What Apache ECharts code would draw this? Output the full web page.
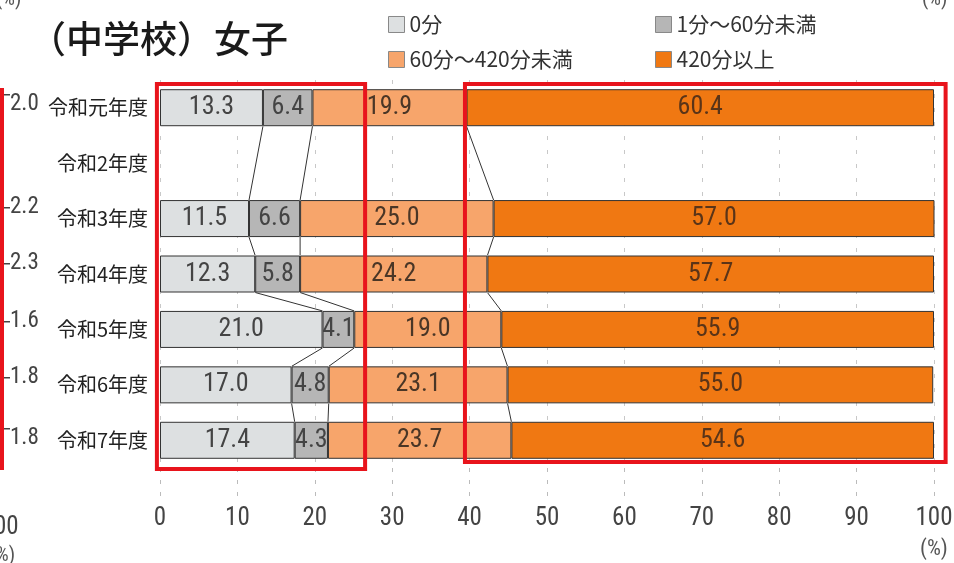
<!DOCTYPE html>
<html>
<head>
<meta charset="utf-8">
<script src="https://cdn.jsdelivr.net/npm/echarts@6/dist/echarts.min.js"></script>
<style>
  html, body { margin: 0; padding: 0; background: #fff; }
  #main { width: 954px; height: 563px; }
</style>
</head>
<body>
<div id="main"></div>
<script>
// 年度（令和2年度はデータなし）
var years = ['令和元年度', '令和2年度', '令和3年度', '令和4年度', '令和5年度', '令和6年度', '令和7年度'];
var seriesNames = ['0分', '1分～60分未満', '60分～420分未満', '420分以上'];
var zeroMin   = [13.3, null, 11.5, 12.3, 21.0, 17.0, 17.4];
var under60   = [6.4,  null, 6.6,  5.8,  4.1,  4.8,  4.3];
var under420  = [19.9, null, 25.0, 24.2, 19.0, 23.1, 23.7];
var over420   = [60.4, null, 57.0, 57.7, 55.9, 55.0, 54.6];
var xTicks = [0, 10, 20, 30, 40, 50, 60, 70, 80, 90, 100];
var colors = ['#dde0e1', '#b6b6b6', '#f7a56b', '#f07812'];
var labelColors = ['#444', '#444', '#4a3626', '#5a3418'];
// 左端に切れて見えている別グラフの数値
var sideValues = ['2.0', '2.2', '2.3', '1.6', '1.8', '1.8'];
// 赤枠（x軸の値の範囲）
var boxes = [[-0.4, 26.5], [39.4, 101.5]];

var BAR_H = 37;
var narrow = '"Roboto Condensed", "Liberation Sans Narrow", sans-serif';
var cjk = '"Noto Sans CJK JP", sans-serif';

var dom = document.getElementById('main');
var myChart = echarts.init(dom);

var allData = [zeroMin, under60, under420, over420];

// 系列間の区切りをつなぐ線
var linkData = [];
var rows = [];
for (var i = 0; i < years.length; i++) {
    if (zeroMin[i] != null) rows.push(i);
}
for (var r = 0; r < rows.length - 1; r++) {
    var a = rows[r], b = rows[r + 1];
    var ca = 0, cb = 0;
    for (var k = 0; k < 3; k++) {
        ca += allData[k][a];
        cb += allData[k][b];
        linkData.push([ca, a, cb, b]);
    }
}

var series = [];
for (var s = 0; s < 4; s++) {
    series.push({
        name: seriesNames[s],
        type: 'bar',
        stack: 'total',
        barWidth: BAR_H,
        data: allData[s],
        itemStyle: { color: colors[s], borderColor: '#333', borderWidth: 1 },
        label: {
            show: true,
            position: 'inside',
            color: labelColors[s],
            fontFamily: narrow,
            fontSize: 26,
            formatter: function (p) { return p.value == null ? '' : p.value.toFixed(1); }
        },
        z: 2
    });
}
series.push({
    type: 'custom',
    name: 'links',
    data: linkData,
    encode: { x: [0, 2], y: [1, 3] },
    z: 3,
    silent: true,
    renderItem: function (params, api) {
        var p1 = api.coord([api.value(0), api.value(1)]);
        var p2 = api.coord([api.value(2), api.value(3)]);
        return {
            type: 'line',
            shape: { x1: p1[0], y1: p1[1] + BAR_H / 2, x2: p2[0], y2: p2[1] - BAR_H / 2 },
            style: { stroke: '#333', lineWidth: 1 }
        };
    }
});

var legendText = { fontFamily: cjk, fontSize: 21, color: '#333' };
var legendItem = { borderColor: '#888', borderWidth: 1 };

var option = {
    animation: false,
    textStyle: { fontFamily: cjk },
    title: {
        text: '（中学校）女子',
        left: 24,
        top: 15,
        textStyle: { fontFamily: cjk, fontSize: 37, fontWeight: 500, color: '#1a1a1a' }
    },
    legend: [
        {
            data: [seriesNames[0], seriesNames[2]],
            orient: 'vertical',
            left: 383,
            top: 9,
            icon: 'rect',
            itemWidth: 16,
            itemHeight: 16,
            itemGap: 14,
            selectedMode: false,
            textStyle: legendText,
            itemStyle: legendItem
        },
        {
            data: [seriesNames[1], seriesNames[3]],
            orient: 'vertical',
            left: 650,
            top: 9,
            icon: 'rect',
            itemWidth: 16,
            itemHeight: 16,
            itemGap: 14,
            selectedMode: false,
            textStyle: legendText,
            itemStyle: legendItem
        }
    ],
    grid: {
        left: 160,
        right: 20,
        top: 80,
        height: 388,
        outerBoundsMode: 'none'
    },
    xAxis: {
        type: 'value',
        min: 0,
        max: 100,
        interval: 10,
        axisLine: { show: false },
        axisTick: {
            show: true,
            length: 30,
            lineStyle: { color: '#bbb', type: [4, 8] }
        },
        axisLabel: {
            margin: 38,
            color: '#444',
            fontFamily: narrow,
            fontSize: 25,
            formatter: function (v) { return xTicks.indexOf(v) >= 0 ? String(v) : ''; }
        },
        splitLine: { show: true, lineStyle: { color: '#c8c8c8', type: [4, 10] } }
    },
    yAxis: {
        type: 'category',
        data: years,
        inverse: true,
        axisLine: { show: false },
        axisTick: { show: false },
        axisLabel: { margin: 12, color: '#222', fontFamily: cjk, fontSize: 20 }
    },
    series: series
};

myChart.setOption(option);

// 赤枠と切れている周辺のテキスト
var gfx = [];
for (var bi = 0; bi < boxes.length; bi++) {
    var x1 = myChart.convertToPixel({ xAxisIndex: 0 }, boxes[bi][0]);
    var x2 = myChart.convertToPixel({ xAxisIndex: 0 }, boxes[bi][1]);
    gfx.push({
        type: 'rect',
        shape: { x: x1, y: 84, width: x2 - x1, height: bi === 0 ? 385 : 378 },
        style: { fill: 'none', stroke: '#e8141c', lineWidth: 4 },
        z: 100
    });
}
gfx.push({ type: 'rect', shape: { x: 0, y: 88, width: 4, height: 382 }, style: { fill: '#e8141c' }, z: 100 });
var sideY = [104, 207, 263, 321, 377, 438];
for (var si = 0; si < sideValues.length; si++) {
    var edge = (si === 0 || si === sideValues.length - 1);
    gfx.push({ type: 'rect', shape: { x: 4, y: sideY[si] - (edge ? 10 : 0), width: 6, height: 1.5 }, style: { fill: '#444' }, z: 100 });
    gfx.push({
        type: 'text', x: 10, y: sideY[si], z: 100,
        style: { text: sideValues[si], fill: '#444', font: '23px ' + narrow, textVerticalAlign: 'middle' }
    });
}
gfx.push({ type: 'text', x: -4, y: -10, style: { text: '(%)', fill: '#555', font: '20px ' + narrow } });
gfx.push({ type: 'text', x: 922, y: -10, style: { text: '(%)', fill: '#555', font: '20px ' + narrow } });
gfx.push({ type: 'text', x: -6, y: 515, style: { text: '00', fill: '#444', font: '25px ' + narrow } });
gfx.push({ type: 'text', x: -4, y: 546, style: { text: '%)', fill: '#555', font: '20px ' + narrow } });
gfx.push({ type: 'text', x: 920, y: 538, style: { text: '(%)', fill: '#555', font: '22px ' + narrow } });
myChart.setOption({ graphic: gfx });
</script>
</body>
</html>
